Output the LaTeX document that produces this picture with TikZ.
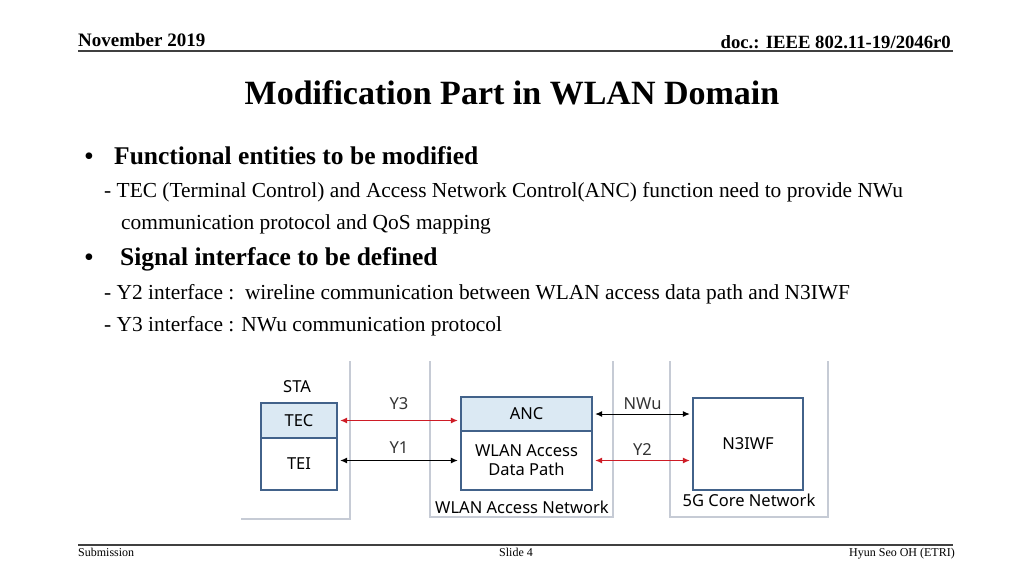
\documentclass[tikz,border=0pt]{standalone}
\usepackage{fontspec}
\setmainfont{Liberation Serif}
\newfontfamily\diagfont{Noto Sans}
\usetikzlibrary{arrows.meta,positioning}
\definecolor{boxline}{RGB}{66,98,138}
\definecolor{boxfill}{RGB}{219,233,243}
\definecolor{sigred}{RGB}{206,28,38}
\definecolor{panelgray}{RGB}{198,203,213}
\tikzset{
	entity/.style={draw=boxline,line width=2.4pt,inner sep=0pt,align=center,
		font=\diagfont\fontsize{16.5}{19}\selectfont},
	panel/.style={draw=panelgray,line width=1.2pt},
	sig/.style={{Latex[length=7pt,width=6pt]}-{Latex[length=7pt,width=6pt]},line width=1pt,shorten <=2pt,shorten >=2pt},
	siglabel/.style={font=\diagfont\fontsize{16.5}{19}\selectfont,inner sep=1pt},
	body/.style={anchor=base west,inner sep=0pt},
}

\begin{document}
\begin{tikzpicture}[x=1pt,y=-1pt]
		\useasboundingbox (0,0) rectangle (1024,576);
		% header and footer
		\node[body,font=\bfseries\fontsize{19}{22}\selectfont] (month) at (78,46) {November 2019};
		\node[anchor=base east,inner sep=0pt,font=\bfseries\fontsize{18.7}{22}\selectfont] (docno) at (951,48) {doc.: IEEE 802.11-19/2046r0};
		\draw[line width=1.4pt,black!75] (78,51) -- (953,51);
		\draw[line width=1.4pt,black!75] (78,545) -- (953,545);
		\node[body,font=\fontsize{12}{14}\selectfont] (subm) at (78,556) {Submission};
		\node[anchor=base,inner sep=0pt,font=\fontsize{12}{14}\selectfont] (slide) at (516,556) {Slide 4};
		\node[anchor=base east,inner sep=0pt,font=\fontsize{12}{14}\selectfont] (author) at (955,556) {Hyun Seo OH (ETRI)};
		% title
		\node[anchor=base,inner sep=0pt,font=\bfseries\fontsize{34}{38}\selectfont] (title) at (512,104) {Modification Part in WLAN Domain};
		% body text
		\node[body,font=\fontsize{28}{30}\selectfont] (b1) at (84,165) {\textbullet};
		\node[body,font=\bfseries\fontsize{25.5}{29}\selectfont] (h1) at (114,164) {Functional entities to be modified};
		\node[body,font=\fontsize{21.4}{25}\selectfont] (l1) at (104,197) {- TEC (Terminal Control) and Access Network Control(ANC) function need to provide NWu};
		\node[body,font=\fontsize{21.4}{25}\selectfont] (l2) at (121,229) {communication protocol and QoS mapping};
		\node[body,font=\fontsize{28}{30}\selectfont] (b2) at (84,266) {\textbullet};
		\node[body,font=\bfseries\fontsize{25.5}{29}\selectfont] (h2) at (120,265) {Signal interface to be defined};
		\node[body,font=\fontsize{21.4}{25}\selectfont] (l3) at (104,299) {- Y2 interface :\ \ wireline communication between WLAN access data path and N3IWF};
		\node[body,font=\fontsize{21.4}{25}\selectfont] (l4) at (104,331) {- Y3 interface : NWu communication protocol};
		% panels
		\draw[panel] (241,519) -- (350,519) -- (350,361);
		\draw[panel] (430,361) -- (430,517) -- (613,517) -- (613,361);
		\draw[panel] (670,361) -- (670,517) -- (828,517) -- (828,361);
		\node[siglabel] (sta) at (297,387) {STA};
		\node[siglabel] (wlanan) at (522,507) {WLAN Access Network};
		\node[siglabel] (core) at (749,500) {5G Core Network};
		% entities
		\node[entity,fill=boxfill,minimum width=76,minimum height=35] (tec) at (299,420.5) {TEC};
		\node[entity,fill=white,minimum width=76,minimum height=52] (tei) at (299,464) {TEI};
		\node[entity,fill=boxfill,minimum width=131,minimum height=34] (anc) at (526.5,414) {ANC};
		\node[entity,fill=white,minimum width=131,minimum height=59] (wap) at (526.5,460.5) {WLAN Access\\Data Path};
		\node[entity,fill=white,minimum width=110,minimum height=92] (n3iwf) at (748,444) {N3IWF};
		% interfaces
		\draw[sig,sigred] (tec.east) -- (tec.east -| anc.west) node[siglabel,midway,above=9pt,text=black!80] {Y3};
		\draw[sig] (wap.west -| tei.east) -- (wap.west) node[siglabel,midway,above=6pt,text=black!80] {Y1};
		\draw[sig] (anc.east) -- (anc.east -| n3iwf.west) node[siglabel,midway,above=3pt,text=black!80] {NWu};
		\draw[sig,sigred] (wap.east) -- (wap.east -| n3iwf.west) node[siglabel,midway,above=4pt,text=black!80] {Y2};
\end{tikzpicture}
\end{document}
